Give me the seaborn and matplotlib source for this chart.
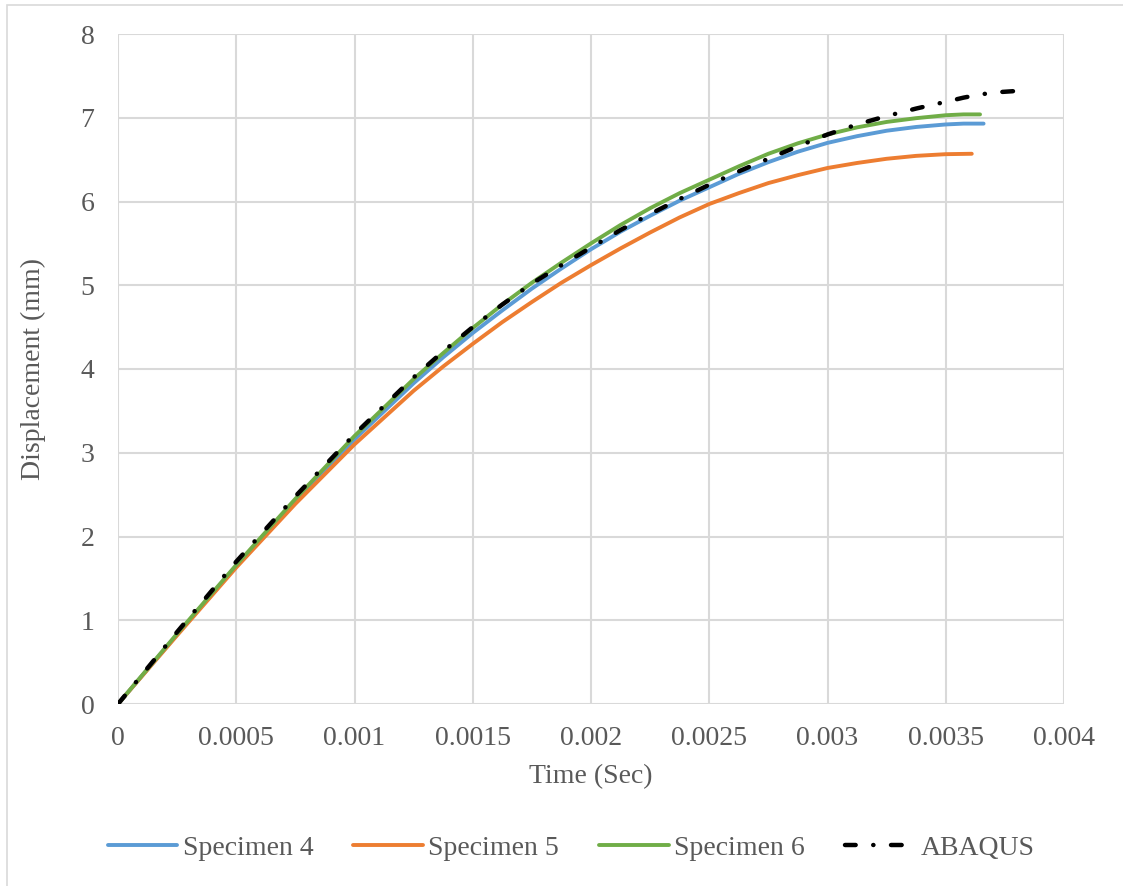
import matplotlib
matplotlib.use("Agg")
import matplotlib.pyplot as plt
import seaborn as sns
import pandas as pd
from matplotlib.patches import Rectangle

# Measured displacement histories (time in s, displacement in mm)
t_spec4 = [0, 0.00025, 0.0005, 0.00075, 0.001, 0.00125, 0.001375, 0.0015, 0.001625,
           0.00175, 0.001875, 0.002, 0.002125, 0.00225, 0.002375, 0.0025, 0.002625,
           0.00275, 0.002875, 0.003, 0.003125, 0.00325, 0.003375, 0.0035, 0.003575, 0.00366]
d_spec4 = [0, 0.83, 1.65, 2.43, 3.16, 3.83, 4.14, 4.43, 4.70,
           4.96, 5.20, 5.43, 5.64, 5.83, 6.01, 6.17, 6.33,
           6.47, 6.595, 6.70, 6.78, 6.845, 6.89, 6.92, 6.93, 6.93]

t_spec5 = [0, 0.00025, 0.0005, 0.00075, 0.001, 0.00125, 0.001375, 0.0015, 0.001625,
           0.00175, 0.001875, 0.002, 0.002125, 0.00225, 0.002375, 0.0025, 0.002625,
           0.00275, 0.002875, 0.003, 0.003125, 0.00325, 0.003375, 0.0035, 0.00361]
d_spec5 = [0, 0.82, 1.63, 2.39, 3.10, 3.74, 4.03, 4.30, 4.56,
           4.80, 5.03, 5.24, 5.44, 5.63, 5.81, 5.97, 6.10,
           6.22, 6.315, 6.40, 6.46, 6.51, 6.545, 6.565, 6.57]

t_spec6 = [0, 0.00025, 0.0005, 0.00075, 0.001, 0.00125, 0.001375, 0.0015, 0.001625,
           0.00175, 0.001875, 0.002, 0.002125, 0.00225, 0.002375, 0.0025, 0.002625,
           0.00275, 0.002875, 0.003, 0.003125, 0.00325, 0.003375, 0.0035, 0.003575, 0.003645]
d_spec6 = [0, 0.84, 1.66, 2.45, 3.20, 3.88, 4.19, 4.49, 4.77,
           5.03, 5.27, 5.50, 5.72, 5.92, 6.10, 6.26, 6.42,
           6.57, 6.695, 6.80, 6.885, 6.95, 6.995, 7.03, 7.04, 7.04]

# Finite element prediction
t_abaqus = [0, 0.00025, 0.0005, 0.00075, 0.001, 0.00125, 0.001375, 0.0015, 0.001625,
            0.00175, 0.001875, 0.002, 0.002125, 0.00225, 0.002375, 0.0025, 0.002625,
            0.00275, 0.002875, 0.003, 0.003125, 0.00325, 0.003375, 0.0035, 0.003575,
            0.00365, 0.00372, 0.0038]
d_abaqus = [0, 0.86, 1.70, 2.48, 3.22, 3.90, 4.21, 4.50, 4.77,
            5.02, 5.24, 5.45, 5.66, 5.85, 6.03, 6.20, 6.36,
            6.51, 6.66, 6.80, 6.92, 7.02, 7.11, 7.19, 7.24,
            7.28, 7.305, 7.32]

series_names = ["Specimen 4", "Specimen 5", "Specimen 6", "ABAQUS"]
series_colors = ["#5B9BD5", "#ED7D31", "#70AD47", "#000000"]
series_widths = [2.8, 2.8, 2.8, 3.2]

x_ticks = [0, 0.0005, 0.001, 0.0015, 0.002, 0.0025, 0.003, 0.0035, 0.004]
x_tick_labels = ["0", "0.0005", "0.001", "0.0015", "0.002", "0.0025", "0.003", "0.0035", "0.004"]
y_ticks = [0, 1, 2, 3, 4, 5, 6, 7, 8]

sns.set_theme(style="white")
plt.rcParams["font.family"] = ["Liberation Serif", "DejaVu Serif"]

text_color = "#595959"
grid_color = "#D9D9D9"
font_size = 20

W, H = 1123, 886
fig = plt.figure(figsize=(W / 100, H / 100), dpi=100)
fig.patch.set_facecolor("white")

# chart area border (left and top edges inside the canvas)
fig.patches.append(Rectangle((7 / W, -0.1), 1.2, 1 - 5 / H + 0.1,
                             transform=fig.transFigure, fill=False,
                             edgecolor=grid_color, linewidth=1.2, zorder=0))

ax = fig.add_axes([118 / W, 1 - 704 / H, (1064 - 118) / W, (704 - 34) / H])

frames = [
    pd.DataFrame({"t": t_spec4, "d": d_spec4}),
    pd.DataFrame({"t": t_spec5, "d": d_spec5}),
    pd.DataFrame({"t": t_spec6, "d": d_spec6}),
    pd.DataFrame({"t": t_abaqus, "d": d_abaqus}),
]

for df, name, col, lw in zip(frames, series_names, series_colors, series_widths):
    sns.lineplot(data=df, x="t", y="d", ax=ax, color=col, label=name,
                 sort=False, linewidth=lw, estimator=None,
                 solid_capstyle="round", solid_joinstyle="round",
                 dash_capstyle="round", dash_joinstyle="round")

# long dash - dot pattern for the simulation curve
abaqus_line = ax.get_lines()[-1]
abaqus_line.set_dashes((2.4, 3.95, 0.05, 3.95))

ax.set_xlim(0, 0.004)
ax.set_ylim(0, 8)
ax.set_xticks(x_ticks)
ax.set_xticklabels(x_tick_labels)
ax.set_yticks(y_ticks)
ax.grid(True, color=grid_color, linewidth=1.5)
ax.set_axisbelow(True)
for side in ["top", "right", "left", "bottom"]:
    ax.spines[side].set_visible(False)

ax.tick_params(axis="both", length=0, labelsize=font_size, colors=text_color)
ax.tick_params(axis="x", pad=16)
ax.tick_params(axis="y", pad=17)

ax.set_xlabel("Time (Sec)", fontsize=font_size, color=text_color, va="center")
ax.set_ylabel("Displacement (mm)", fontsize=font_size, color=text_color, va="center")
ax.xaxis.set_label_coords(0.5, -(777 - 704) / (704 - 34))
ax.yaxis.set_label_coords(-(118 - 33) / (1064 - 118), 0.5)

handles, labels = ax.get_legend_handles_labels()
ax.legend(handles, labels, loc="center", bbox_to_anchor=(571 / W, 1 - 848 / H),
          bbox_transform=fig.transFigure,
          ncol=4, frameon=False, fontsize=font_size, handlelength=2.5,
          columnspacing=1.45, handletextpad=0.2, labelcolor=text_color)

fig.savefig("out.png", dpi=100, facecolor="white")
